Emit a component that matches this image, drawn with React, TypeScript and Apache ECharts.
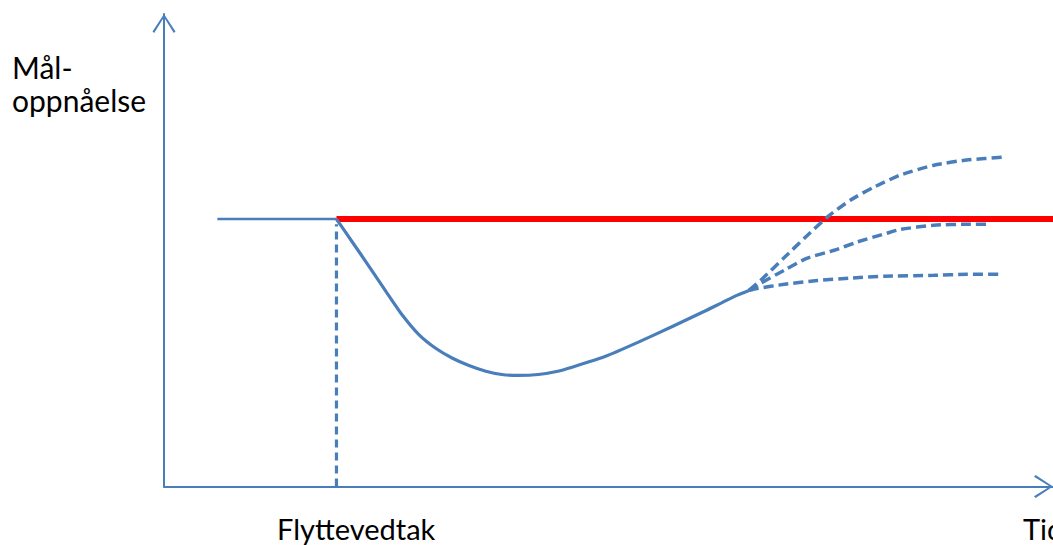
import React, { useEffect, useRef } from "react";
import * as echarts from "echarts";

// Conceptual diagram: x = time (0-100), y = goal achievement (0-100)
const baselineLine: [number, number][] = [[6.0, 56.6], [19.4, 56.6]];
const targetLine: [number, number][] = [[19.4, 56.6], [100, 56.6]];
const mainCurve: [number, number][] = [
  [19.4, 56.6], [21.2, 51.7], [23.1, 46.5], [25.0, 41.2], [26.8, 36.3],
  [28.7, 32.1], [30.6, 29.2], [32.4, 27.2], [34.3, 25.6], [36.2, 24.4],
  [38.0, 23.7], [39.9, 23.5], [42.1, 23.7], [44.3, 24.4], [45.8, 25.2],
  [49.6, 27.5], [53.3, 30.5], [57.0, 33.7], [60.8, 37.1], [64.5, 40.5],
  [65.8, 41.5],
];
const decisionLine: [number, number][] = [[19.4, 0], [19.4, 55.5]];
const branchHigh: [number, number][] = [
  [65.8, 41.5], [67.1, 43.6], [69.8, 48.5], [72.0, 52.5], [74.6, 57.0],
  [77.2, 60.6], [79.8, 63.3], [82.8, 65.9], [86.6, 68.0], [90.3, 69.1], [94.5, 69.7],
];
const branchMid: [number, number][] = [
  [65.8, 41.5], [67.1, 43.0], [69.8, 45.8], [72.3, 48.3], [75.4, 50.0],
  [77.9, 51.7], [81.3, 53.6], [82.8, 54.4], [86.6, 55.3], [90.3, 55.5], [92.7, 55.5],
];
const branchLow: [number, number][] = [
  [65.8, 41.5], [66.7, 41.9], [69.8, 42.8], [73.5, 43.6], [77.2, 44.1],
  [81.0, 44.5], [86.6, 44.7], [90.3, 44.9], [94.2, 44.9],
];
const yLabelLines = ["Mål-", "oppnåelse"];
const decisionLabel = "Flyttevedtak";
const xLabel = "Tid";

const BLUE = "#4a7ebb";
const RED = "#ff0000";
const FONT = "Lato";

const chevron = "path://M0,17.4 L11.5,0 L23,17.4 L21.3,19 L11.5,3.2 L1.7,19 Z";

export default function App() {
  const ref = useRef<HTMLDivElement>(null);
  useEffect(() => {
    if (!ref.current) return;
    const chart = echarts.init(ref.current, undefined, { renderer: "svg" });
    const dashed = (data: [number, number][]) => ({
      type: "line",
      data,
      showSymbol: false,
      smooth: 0.2,
      lineStyle: { color: BLUE, width: 3.5, type: [10, 5] },
      z: 3,
    });
    chart.setOption({
      animation: false,
      backgroundColor: "#ffffff",
      grid: { left: 164, right: -6, top: 14, bottom: 58.5 },
      xAxis: {
        type: "value",
        min: 0,
        max: 100,
        axisLine: {
          show: true,
          onZero: true,
          lineStyle: { color: BLUE, width: 2 },
          symbol: ["none", chevron],
          symbolSize: [23, 19],
          symbolOffset: [0, -9.5],
        },
        axisTick: { show: false },
        axisLabel: { show: false },
        splitLine: { show: false },
      },
      yAxis: {
        type: "value",
        min: 0,
        max: 100,
        axisLine: {
          show: true,
          onZero: true,
          lineStyle: { color: BLUE, width: 2 },
          symbol: ["none", chevron],
          symbolSize: [23, 19],
          symbolOffset: [0, -9.5],
        },
        axisTick: { show: false },
        axisLabel: { show: false },
        splitLine: { show: false },
      },
      series: [
        {
          type: "line",
          data: baselineLine,
          showSymbol: false,
          lineStyle: { color: BLUE, width: 2.5 },
          z: 2,
        },
        {
          type: "line",
          data: targetLine,
          showSymbol: false,
          lineStyle: { color: RED, width: 6 },
          z: 2,
        },
        {
          type: "line",
          data: mainCurve,
          showSymbol: false,
          smooth: 0.2,
          lineStyle: { color: BLUE, width: 3.2 },
          z: 3,
        },
        {
          type: "line",
          data: decisionLine,
          showSymbol: false,
          lineStyle: { color: BLUE, width: 3.2, type: [8, 5] },
          z: 3,
        },
        dashed(branchHigh),
        dashed(branchMid),
        dashed(branchLow),
      ],
      graphic: [
        {
          type: "text",
          left: 12,
          top: 50,
          style: {
            text: yLabelLines.join("\n"),
            font: `30px ${FONT}`,
            lineHeight: 33,
            fill: "#000000",
          },
        },
        {
          type: "text",
          left: 277,
          top: 514,
          style: {
            text: decisionLabel,
            font: `29px ${FONT}`,
            fill: "#000000",
          },
        },
        {
          type: "text",
          left: 1023,
          top: 514,
          style: {
            text: xLabel,
            font: `29px ${FONT}`,
            fill: "#000000",
          },
        },
      ],
    });
    return () => chart.dispose();
  }, []);
  return (
    <div
      ref={ref}
      style={{ position: "fixed", left: 0, top: 0, width: 1053, height: 545 }}
    />
  );
}
